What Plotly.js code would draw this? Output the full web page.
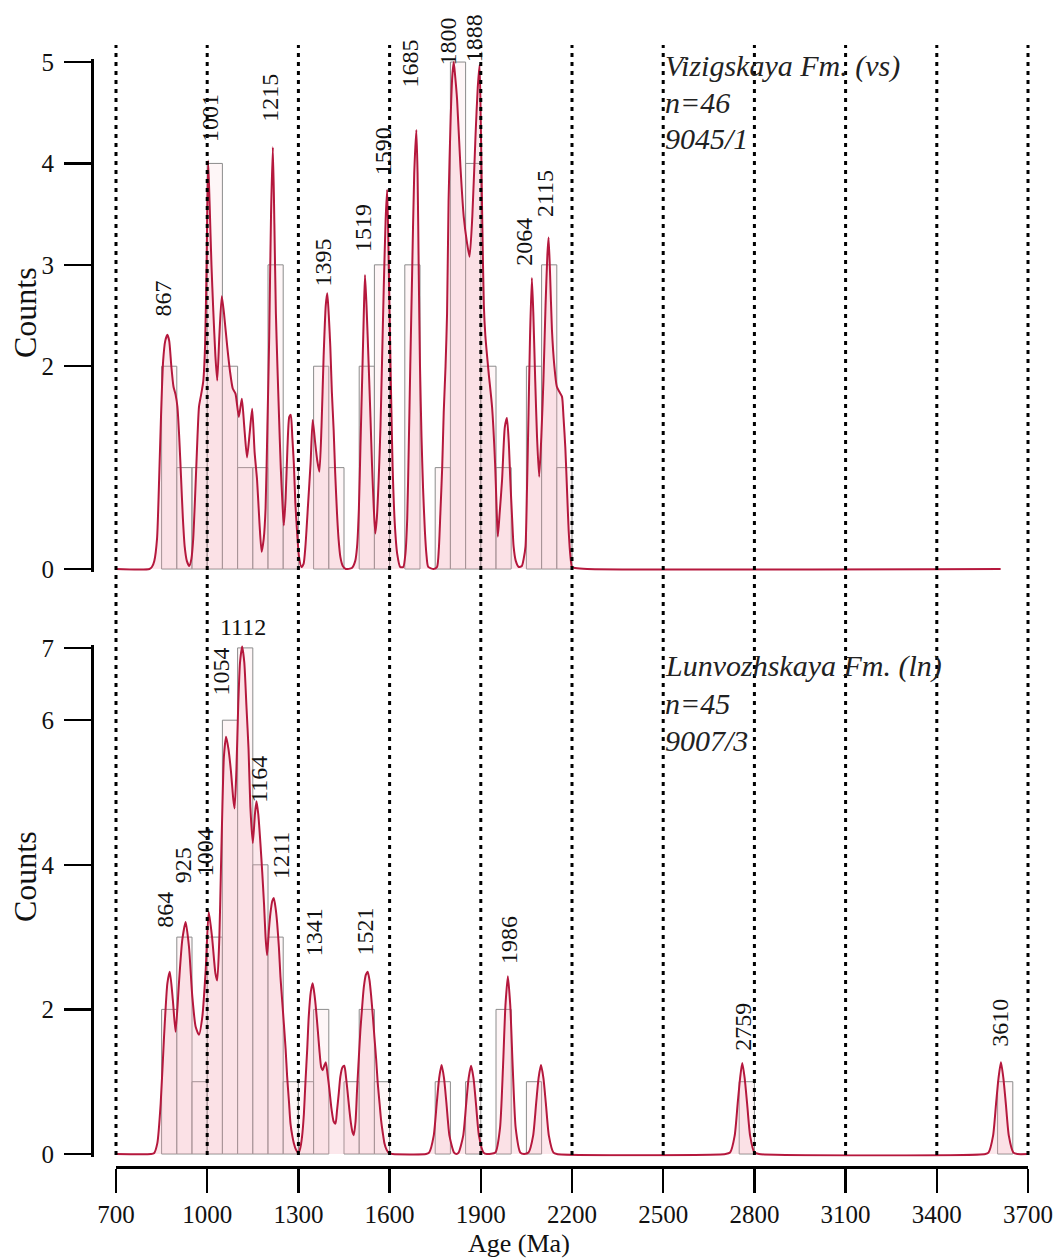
<!DOCTYPE html>
<html>
<head>
<meta charset="utf-8">
<script src="https://cdn.plot.ly/plotly-3.0.1.min.js"></script>
<style>
html,body{margin:0;padding:0;background:#ffffff;}
#chart{width:1059px;height:1260px;}
</style>
</head>
<body>
<div id="chart"></div>
<script>
// ---------------- DATA ----------------
// Upper panel: Vizigskaya Fm. (vs), n=46, sample 9045/1
const topBinLeft  = [850, 900, 950, 1000, 1050, 1100, 1150, 1200, 1250, 1350, 1400, 1500, 1550, 1650, 1750, 1800, 1850, 1900, 1950, 2050, 2100, 2150];
const topBinCount = [2, 1, 1, 4, 2, 1, 1, 3, 1, 2, 1, 2, 3, 3, 1, 5, 4, 2, 1, 2, 3, 1];

const topAge = [700, 810, 818, 826, 835, 842, 848, 855, 862, 869, 875, 882, 889, 896, 902, 908, 914, 920, 926, 933, 941, 948, 954, 960, 966, 973, 980, 987, 993, 998,
  1003, 1008, 1014, 1020, 1027, 1033, 1040, 1048, 1056, 1066, 1075, 1084, 1093, 1104, 1114, 1122, 1131, 1140, 1148, 1156, 1164, 1172, 1179, 1186, 1192, 1198,
  1204, 1210, 1216, 1221, 1226, 1231, 1236, 1242, 1247, 1252, 1258, 1264, 1270, 1275, 1280, 1285, 1290, 1296, 1302, 1310, 1317, 1323, 1332, 1340, 1347,
  1355, 1362, 1369, 1376, 1383, 1390, 1395, 1400, 1405, 1410, 1416, 1421, 1427, 1432, 1438, 1446, 1456, 1476, 1487, 1493, 1499, 1504, 1510, 1515, 1519,
  1524, 1531, 1537, 1542, 1548, 1553, 1558, 1564, 1570, 1575, 1581, 1587, 1592, 1596, 1600, 1605, 1610, 1617, 1625, 1635, 1645, 1652, 1658, 1663, 1668,
  1674, 1681, 1688, 1692, 1696, 1700, 1705, 1710, 1716, 1721, 1727, 1745, 1756, 1762, 1767, 1773, 1778, 1784, 1789, 1794, 1801, 1806, 1811, 1816, 1822,
  1833, 1844, 1855, 1863, 1872, 1883, 1890, 1896, 1900, 1905, 1910, 1915, 1926, 1937, 1947, 1952, 1956, 1962, 1970, 1979, 1986, 1992, 1997, 2003, 2008,
  2015, 2025, 2035, 2041, 2047, 2052, 2057, 2062, 2068, 2073, 2079, 2085, 2092, 2099, 2106, 2113, 2119, 2123, 2128, 2134, 2142, 2150, 2158, 2167, 2172,
  2178, 2184, 2189, 2195, 2200, 2210, 2250, 3610];
const topDen = [0, 0, 0.02, 0.08, 0.3, 0.9, 1.5, 2.05, 2.25, 2.31, 2.25, 2.0, 1.8, 1.72, 1.6, 1.3, 0.9, 0.5, 0.22, 0.08, 0.03, 0.1, 0.3, 0.7, 1.15, 1.6, 1.72, 1.85, 2.2, 3.0,
  4.03, 3.6, 3.0, 2.55, 2.1, 1.86, 2.3, 2.69, 2.5, 2.19, 1.95, 1.78, 1.73, 1.5, 1.68, 1.4, 1.1, 1.35, 1.58, 1.15, 0.88, 0.45, 0.17, 0.3, 0.6, 1.4,
  2.3, 3.5, 4.16, 3.4, 2.52, 2.0, 1.53, 1.0, 0.68, 0.43, 0.7, 1.2, 1.5, 1.52, 1.3, 1.04, 0.65, 0.35, 0.12, 0.02, 0.05, 0.22, 0.65, 1.04, 1.47,
  1.25, 1.07, 0.96, 1.4, 2.1, 2.6, 2.72, 2.5, 2.19, 1.75, 1.37, 0.95, 0.55, 0.3, 0.12, 0.03, 0, 0.01, 0.08, 0.22, 0.6, 1.2, 1.9, 2.5, 2.9,
  2.6, 2.03, 1.5, 1.04, 0.6, 0.35, 0.5, 0.88, 1.4, 2.03, 2.8, 3.45, 3.74, 3.2, 2.5, 1.7, 1.0, 0.45, 0.15, 0.02, 0.02, 0.15, 0.5, 1.2, 2.0,
  2.9, 3.9, 4.33, 3.9, 2.9, 2.0, 1.3, 0.8, 0.38, 0.15, 0.02, 0, 0.02, 0.2, 0.55, 1.0, 1.54, 2.0, 2.52, 3.64, 4.46, 4.85, 5.0, 4.85, 4.63,
  3.97, 3.47, 3.21, 3.08, 3.47, 4.3, 4.75, 4.97, 4.4, 3.4, 2.6, 2.3, 1.93, 1.6, 1.04, 0.6, 0.32, 0.55, 0.88, 1.4, 1.49, 1.25, 0.88, 0.5, 0.22,
  0.08, 0.02, 0.03, 0.1, 0.22, 0.8, 1.54, 2.3, 2.87, 2.5, 1.86, 1.3, 0.91, 1.3, 1.86, 2.6, 3.1, 3.27, 2.9, 2.36, 2.0, 1.8, 1.75, 1.7, 1.5,
  1.2, 0.75, 0.38, 0.12, 0.02, 0.01, 0, 0];
const topPeakLabels = [867, 1001, 1215, 1395, 1519, 1590, 1685, 1800, 1888, 2064, 2115];

// Lower panel: Lunvozhskaya Fm. (ln), n=45, sample 9007/3
const botBinLeft  = [850, 900, 950, 1000, 1050, 1100, 1150, 1200, 1250, 1300, 1350, 1450, 1500, 1550, 1750, 1850, 1950, 2050, 2750, 3600];
const botBinCount = [2, 3, 1, 3, 6, 7, 4, 3, 1, 1, 2, 1, 2, 1, 1, 1, 2, 1, 1, 1];

const botAge = [700, 815, 825, 836, 847, 858, 869, 877, 887, 896, 907, 918, 929, 940, 951, 962, 973, 984, 995, 1005, 1016, 1027, 1033, 1040, 1045, 1050,
  1055, 1062, 1070, 1078, 1086, 1090, 1096, 1102, 1108, 1115, 1122, 1129, 1136, 1142, 1150, 1157, 1162, 1168, 1175, 1181, 1187, 1192, 1197, 1203,
  1208, 1214, 1219, 1225, 1230, 1236, 1241, 1247, 1252, 1258, 1263, 1269, 1274, 1280, 1285, 1292, 1300, 1306, 1312, 1318, 1323, 1329, 1334, 1341,
  1347, 1353, 1358, 1364, 1369, 1375, 1380, 1385, 1390, 1396, 1402, 1409, 1416, 1422, 1427, 1433, 1438, 1445, 1451, 1457, 1462, 1468, 1473, 1478,
  1482, 1488, 1493, 1499, 1504, 1510, 1515, 1522, 1528, 1534, 1539, 1545, 1550, 1556, 1561, 1567, 1572, 1578, 1583, 1590, 1598, 1610,
  1720, 1730, 1745, 1755, 1763, 1771, 1779, 1787, 1797, 1812, 1820,
  1827, 1842, 1852, 1860, 1868, 1876, 1884, 1894, 1909, 1920,
  1948, 1963, 1973, 1981, 1989, 1997, 2005, 2015, 2030, 2042,
  2057, 2072, 2082, 2090, 2098, 2106, 2114, 2124, 2139, 2150,
  2705, 2720, 2735, 2745, 2753, 2760, 2768, 2776, 2786, 2800, 2815,
  3560, 3570, 3585, 3595, 3603, 3611, 3619, 3627, 3637, 3652, 3665, 3700];
const botDen = [0, 0, 0.01, 0.15, 0.7, 1.62, 2.36, 2.52, 2.13, 1.69, 2.36, 2.96, 3.21, 2.87, 2.18, 1.76, 1.65, 1.9, 2.54, 3.35, 3.0, 2.5, 2.4, 3.0, 3.9, 4.8,
  5.5, 5.77, 5.6, 5.3, 4.9, 4.78, 5.3, 6.2, 6.8, 7.02, 6.8, 6.2, 5.6, 4.8, 4.3, 4.7, 4.88, 4.7, 4.3, 3.9, 3.45, 3.0, 2.75, 3.1,
  3.33, 3.5, 3.54, 3.4, 3.2, 2.85, 2.45, 2.1, 1.81, 1.45, 1.07, 0.72, 0.42, 0.25, 0.15, 0.06, 0.01, 0.08, 0.24, 0.55, 0.98, 1.45, 1.9, 2.25,
  2.36, 2.2, 2.0, 1.7, 1.44, 1.2, 1.16, 1.22, 1.27, 1.1, 0.89, 0.62, 0.45, 0.42, 0.6, 0.85, 1.07, 1.2, 1.22, 1.05, 0.85, 0.6, 0.42, 0.3,
  0.26, 0.45, 0.89, 1.35, 1.72, 2.05, 2.3, 2.48, 2.52, 2.4, 2.2, 1.9, 1.62, 1.3, 0.98, 0.7, 0.47, 0.28, 0.15, 0.06, 0.01, 0,
  0, 0.02, 0.25, 0.7, 1.05, 1.23, 1.05, 0.7, 0.25, 0.02, 0,
  0.02, 0.25, 0.7, 1.05, 1.22, 1.05, 0.7, 0.25, 0.02, 0,
  0.02, 0.35, 1.2, 2.05, 2.46, 2.05, 1.2, 0.35, 0.02, 0,
  0.02, 0.25, 0.7, 1.05, 1.23, 1.05, 0.7, 0.25, 0.02, 0,
  0, 0.02, 0.25, 0.7, 1.05, 1.26, 1.05, 0.7, 0.25, 0.02, 0,
  0, 0.02, 0.25, 0.7, 1.05, 1.27, 1.05, 0.7, 0.25, 0.02, 0, 0];
const botPeakLabels = [864, 925, 1004, 1054, 1112, 1164, 1211, 1341, 1521, 1986, 2759, 3610];

const xTickVals = [700, 1000, 1300, 1600, 1900, 2200, 2500, 2800, 3100, 3400, 3700];
const topYTicks = [0, 2, 3, 4, 5];
const botYTicks = [0, 2, 4, 6, 7];
const topInfo = ["Vizigskaya Fm. (vs)", "n=46", "9045/1"];
const botInfo = ["Lunvozhskaya Fm. (ln)", "n=45", "9007/3"];

// ---------------- LAYOUT / STYLE ----------------
const W = 1059, H = 1260;
const ml = 92, mr = 31, mt = 59, xAxisPx = 1167;
const plotW = W - ml - mr, plotH = xAxisPx - mt;
const xStartPx = 116;
const FONT = "Liberation Serif, Times New Roman, serif";
const LINE = "#b5183d";
const FILL = "rgba(242,165,182,0.26)";
const yDom = py => (xAxisPx - py) / plotH;
const xPaper = px => (px - ml) / plotW;
const xDom0 = xPaper(xStartPx);
const agePaper = a => xDom0 + (a - 700) / 3000 * (1 - xDom0);

// top panel: 0 at 569 px, 101.4 px per count; bottom: 0 at 1154 px, 72.3 px per count
const topZero = 569, topUnit = 101.4, topRange = [-0.025, 5.03];
const botZero = 1154, botUnit = 72.3, botRange = [-0.035, 7.04];
const topDomain = [yDom(topZero - topRange[0] * topUnit), Math.min(1, yDom(topZero - topRange[1] * topUnit))];
const botDomain = [yDom(botZero - botRange[0] * botUnit), yDom(botZero - botRange[1] * botUnit)];

// label pixel nudges [dx, dy] (layout only)
const topLabelNudge = [[-4, 17], [3, 17], [-2, 24], [-4, 6], [-2, 22], [-4, 13], [-5, 42], [-2, -4], [-3, 2], [-7, 11], [-1, 19]];
const botLabelNudge = [[-1, 43], [-1, 38], [-4, 35], [-3, 40], [2, 5], [2, -3], [9, 18], [4, 26], [-1, 15], [2, 11], [1, 11], [0, 14]];

function localMax(ages, dens, a) {
  let m = 0;
  for (let i = 0; i < ages.length; i++) if (Math.abs(ages[i] - a) <= 16 && dens[i] > m) m = dens[i];
  return m;
}

const BAR_FILL = 'rgba(253,238,241,0.55)';
const traces = [
  {type: 'bar', x: topBinLeft, y: topBinCount, offset: 0, width: 50, xaxis: 'x', yaxis: 'y',
   marker: {color: BAR_FILL, line: {color: '#8c8c8c', width: 1}}, hoverinfo: 'skip', showlegend: false},
  {type: 'scatter', mode: 'lines', x: topAge, y: topDen, xaxis: 'x', yaxis: 'y', fill: 'tozeroy', fillcolor: FILL,
   line: {color: LINE, width: 2, shape: 'spline', smoothing: 0.6}, hoverinfo: 'skip', showlegend: false},
  {type: 'bar', x: botBinLeft, y: botBinCount, offset: 0, width: 50, xaxis: 'x', yaxis: 'y2',
   marker: {color: BAR_FILL, line: {color: '#8c8c8c', width: 1}}, hoverinfo: 'skip', showlegend: false},
  {type: 'scatter', mode: 'lines', x: botAge, y: botDen, xaxis: 'x', yaxis: 'y2', fill: 'tozeroy', fillcolor: FILL,
   line: {color: LINE, width: 2, shape: 'spline', smoothing: 0.6}, hoverinfo: 'skip', showlegend: false}
];

const shapes = xTickVals.map(v => ({
  type: 'line', xref: 'paper', yref: 'paper', x0: agePaper(v), x1: agePaper(v), y0: yDom(1155), y1: yDom(45),
  line: {color: '#000', width: 3, dash: '4px,5px'}, layer: 'above'
}));

const annotations = [];
topPeakLabels.forEach((a, i) => {
  annotations.push({x: a, y: localMax(topAge, topDen, a), xref: 'x', yref: 'y', text: String(a), showarrow: false,
    textangle: -90, xanchor: 'center', yanchor: 'bottom', xshift: topLabelNudge[i][0], yshift: topLabelNudge[i][1],
    borderpad: 0, font: {family: FONT, size: 24, color: '#111'}});
});
botPeakLabels.forEach((a, i) => {
  annotations.push({x: a, y: localMax(botAge, botDen, a), xref: 'x', yref: 'y2', text: String(a), showarrow: false,
    textangle: a === 1112 ? 0 : -90, xanchor: 'center', yanchor: 'bottom', xshift: botLabelNudge[i][0], yshift: botLabelNudge[i][1],
    borderpad: 0, font: {family: FONT, size: 24, color: '#111'}});
});
topInfo.forEach((t, i) => annotations.push({xref: 'paper', yref: 'paper', x: xPaper(663), y: yDom(66 + 36 * i), text: t,
  showarrow: false, xanchor: 'left', yanchor: 'middle', font: {family: FONT, size: 30, style: 'italic', color: '#222'}}));
botInfo.forEach((t, i) => annotations.push({xref: 'paper', yref: 'paper', x: xPaper(663), y: yDom(666 + 37 * i), text: t,
  showarrow: false, xanchor: 'left', yanchor: 'middle', font: {family: FONT, size: 30, style: 'italic', color: '#222'}}));
annotations.push({xref: 'paper', yref: 'paper', x: xPaper(25), y: yDom(313), text: 'Counts', textangle: -90, showarrow: false,
  xanchor: 'center', yanchor: 'middle', font: {family: FONT, size: 32, color: '#111'}});
annotations.push({xref: 'paper', yref: 'paper', x: xPaper(25), y: yDom(877), text: 'Counts', textangle: -90, showarrow: false,
  xanchor: 'center', yanchor: 'middle', font: {family: FONT, size: 32, color: '#111'}});
annotations.push({xref: 'paper', yref: 'paper', x: xPaper(519), y: yDom(1243), text: 'Age (Ma)', showarrow: false,
  xanchor: 'center', yanchor: 'middle', font: {family: FONT, size: 26, color: '#111'}});

const yAxisCommon = {
  anchor: 'free', position: 0, side: 'left', showline: true, linecolor: '#000', linewidth: 2.5,
  ticks: 'outside', ticklen: 27, tickwidth: 2.5, tickcolor: '#000', showgrid: false, zeroline: false,
  tickfont: {family: FONT, size: 25, color: '#111'}, ticklabelstandoff: 5, fixedrange: true
};

const layout = {
  width: W, height: H,
  margin: {l: ml, r: mr, t: mt, b: H - xAxisPx, pad: 0},
  paper_bgcolor: '#fff', plot_bgcolor: 'rgba(0,0,0,0)',
  barmode: 'overlay', bargap: 0, showlegend: false,
  xaxis: {domain: [xDom0, 1], range: [700, 3700], anchor: 'free', position: 0,
    tickvals: xTickVals, ticktext: xTickVals.map(String), ticks: 'outside', ticklen: 24, tickwidth: 2.5, tickcolor: '#000',
    showline: true, linecolor: '#000', linewidth: 2.5, showgrid: false, zeroline: false,
    tickfont: {family: FONT, size: 25, color: '#111'}, ticklabelstandoff: 0},
  yaxis: Object.assign({}, yAxisCommon, {domain: topDomain, range: topRange, tickvals: topYTicks, ticktext: topYTicks.map(String)}),
  yaxis2: Object.assign({}, yAxisCommon, {domain: botDomain, range: botRange, tickvals: botYTicks, ticktext: botYTicks.map(String)}),
  shapes: shapes,
  annotations: annotations
};

Plotly.newPlot('chart', traces, layout, {staticPlot: true, displayModeBar: false});
</script>
</body>
</html>
